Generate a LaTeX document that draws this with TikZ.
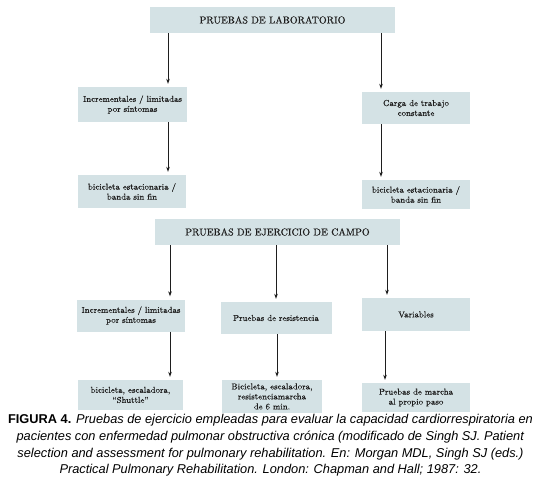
\documentclass[tikz,border=0pt]{standalone}
\usepackage{fontspec}
\newfontfamily\capfont{Liberation Sans}
\newfontfamily\boxfont{Latin Modern Roman}[FakeBold=0.5,Ligatures=TeX]
\usetikzlibrary{arrows.meta}
\definecolor{boxfill}{RGB}{212,226,229}
\definecolor{inkc}{RGB}{30,30,30}
\begin{document}
\begin{tikzpicture}[x=1pt,y=1pt,
  box/.style={fill=boxfill,draw=none,inner sep=1pt,align=center,text=inkc,font=\boxfont\fontsize{8.6}{10}\selectfont},
  head/.style={box,font=\boxfont\fontsize{10}{12}\selectfont},
  arr/.style={draw=inkc,line width=0.8pt,-{Stealth[length=5pt,width=3.6pt]},shorten >=3pt},
  captxt/.style={anchor=base,inner sep=0pt,text=black,font=\capfont\fontsize{12.8}{16}\selectfont}]
\useasboundingbox[fill=white] (0,0) rectangle (540,-481);
% level nodes
\node[head,minimum width=245,minimum height=26] (top) at (272.5,-20) {PRUEBAS DE LABORATORIO};
\node[box,minimum width=109,minimum height=35] (l1) at (132.5,-104.5) {Incrementales / limitadas\\por síntomas};
\node[box,minimum width=108,minimum height=32] (r1) at (416,-108) {Carga de trabajo\\constante};
\node[box,minimum width=108,minimum height=33] (l2) at (132,-191.5) {bicicleta estacionaria /\\banda sin fin};
\node[box,minimum width=108,minimum height=29] (r2) at (416,-194.5) {bicicleta estacionaria /\\banda sin fin};
\node[head,minimum width=245,minimum height=26] (campo) at (277.5,-232) {PRUEBAS DE EJERCICIO DE CAMPO};
\node[box,minimum width=108,minimum height=32] (c1) at (131,-315.5) {Incrementales / limitadas\\por síntomas};
\node[box,minimum width=111,minimum height=32] (c2) at (276,-318) {Pruebas de resistencia};
\node[box,minimum width=108,minimum height=33] (c3) at (416,-314.5) {Variables};
\node[box,minimum width=105,minimum height=30] (d1) at (130.5,-395) {bicicleta, escaladora,\\“Shuttle”};
\node[box,minimum width=100,minimum height=33] (d2) at (272,-396.5) {Bicicleta, escaladora,\\resistenciamarcha\\de 6 min.};
\node[box,minimum width=108,minimum height=29] (d3) at (416,-397.5) {Pruebas de marcha\\al propio paso};
% connectors
\draw[arr] (top.south -| 168,0) -- (l1.north -| 168,0);
\draw[arr] (top.south -| 381,0) -- (r1.north -| 381,0);
\draw[arr] (l1.south -| 168,0) -- (l2.north -| 168,0);
\draw[arr] (r1.south -| 381,0) -- (r2.north -| 381,0);
\draw[arr] (campo.south -| 170,0) -- (c1.north -| 170,0);
\draw[arr] (campo.south -| 276,0) -- (c2.north -| 276,0);
\draw[arr] (campo.south -| 387,0) -- (c3.north -| 387,0);
\draw[arr] (c1.south -| 170,0) -- (d1.north -| 170,0);
\draw[arr] (c2.south -| 277,0) -- (d2.north -| 277,0);
\draw[arr] (c3.south -| 385,0) -- (d3.north -| 385,0);
% caption
\node[captxt] (cap1) at (270.5,-423.5) {\textbf{FIGURA 4.} \textit{Pruebas de ejercicio empleadas para evaluar la capacidad cardiorrespiratoria en}};
\node[captxt] (cap2) at (270.5,-440.5) {\textit{pacientes con enfermedad pulmonar obstructiva crónica (modificado de Singh SJ. Patient}};
\node[captxt] (cap3) at (270.5,-457) {\textit{selection and assessment for pulmonary rehabilitation. En: Morgan MDL, Singh SJ (eds.)}};
\node[captxt] (cap4) at (270.5,-473.5) {\textit{Practical Pulmonary Rehabilitation. London: Chapman and Hall; 1987: 32.}};
\end{tikzpicture}
\end{document}
